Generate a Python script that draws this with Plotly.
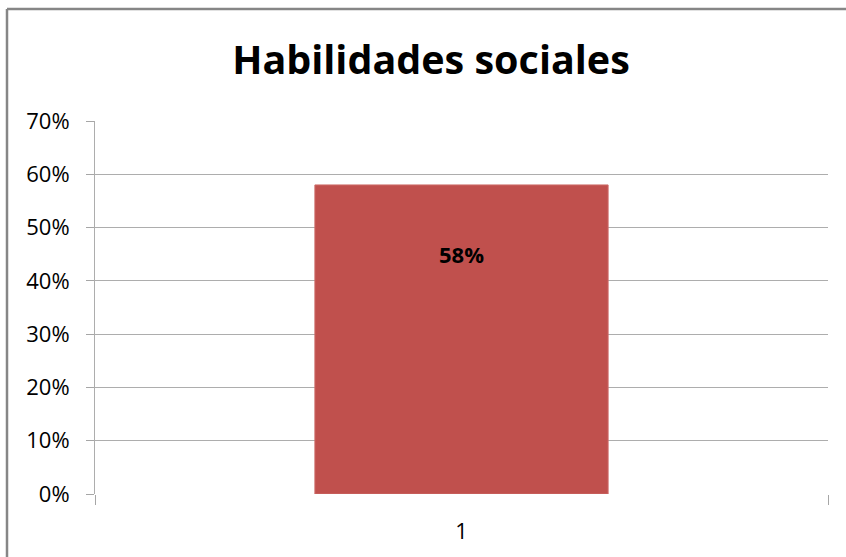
import plotly.graph_objects as go

categories = ["1"]
values = [0.58]
labels = ["58%"]
title_text = "Habilidades sociales"
y_tickvals = [0, 0.1, 0.2, 0.3, 0.4, 0.5, 0.6, 0.7]
y_ticktext = ["0%", "10%", "20%", "30%", "40%", "50%", "60%", "70%"]

xpos = list(range(1, len(categories) + 1))

fig = go.Figure()
fig.add_trace(go.Bar(
    x=xpos, y=values, width=0.4,
    marker=dict(color="#C0504D", line=dict(color="#CD6B68", width=1)),
    hoverinfo="skip",
))

for xv, v, t in zip(xpos, values, labels):
    fig.add_annotation(x=xv, y=v - 0.13, text="<b>" + t + "</b>", showarrow=False,
                       font=dict(family="Open Sans", size=22, color="#000000"),
                       xref="x", yref="y")

fig.update_layout(
    width=846, height=557,
    margin=dict(l=95, r=18, t=121, b=63),
    paper_bgcolor="white", plot_bgcolor="white",
    showlegend=False,
    title=dict(text="<b>" + title_text + "</b>", x=431 / 846, xanchor="center",
               y=1 - 60 / 557, yanchor="middle",
               font=dict(family="Open Sans", size=39.5, color="#000000")),
    xaxis=dict(range=[0.5, len(categories) + 0.5], tickvals=xpos, ticktext=categories,
               ticks="", showgrid=False, zeroline=False,
               showline=False,
               tickfont=dict(family="Open Sans", size=22, color="#000000"),
               ticklabelstandoff=22,
               minor=dict(tickvals=[0.5 + i for i in range(len(categories) + 1)],
                          ticks="outside", ticklen=10, tickcolor="#A6A6A6", tickwidth=1,
                          showgrid=False),
               fixedrange=True),
    yaxis=dict(range=[0, 0.7], tickvals=y_tickvals, ticktext=y_ticktext,
               ticks="outside", ticklen=8, tickcolor="#A6A6A6", tickwidth=1,
               showgrid=True, gridcolor="#ADADAD", gridwidth=1,
               zeroline=False, showline=True, linecolor="#ADADAD", linewidth=1,
               tickfont=dict(family="Open Sans", size=22, color="#000000"),
               ticklabelstandoff=12,
               fixedrange=True),
    shapes=[
        dict(type="line", xref="paper", yref="paper", x0=-88 / 733, x1=1 + 18 / 733 + 0.01,
             y0=1 + 112 / 373, y1=1 + 112 / 373, line=dict(color="#868686", width=2.5)),
        dict(type="line", xref="paper", yref="paper", x0=-88 / 733, x1=-88 / 733,
             y0=1 + 112 / 373, y1=-63 / 373 - 0.01, line=dict(color="#868686", width=2.5)),
    ],
)

fig.write_html("out.html", config={"displayModeBar": False},
               post_script="document.body.style.margin='0';document.body.style.padding='0';document.body.style.overflow='hidden';")
